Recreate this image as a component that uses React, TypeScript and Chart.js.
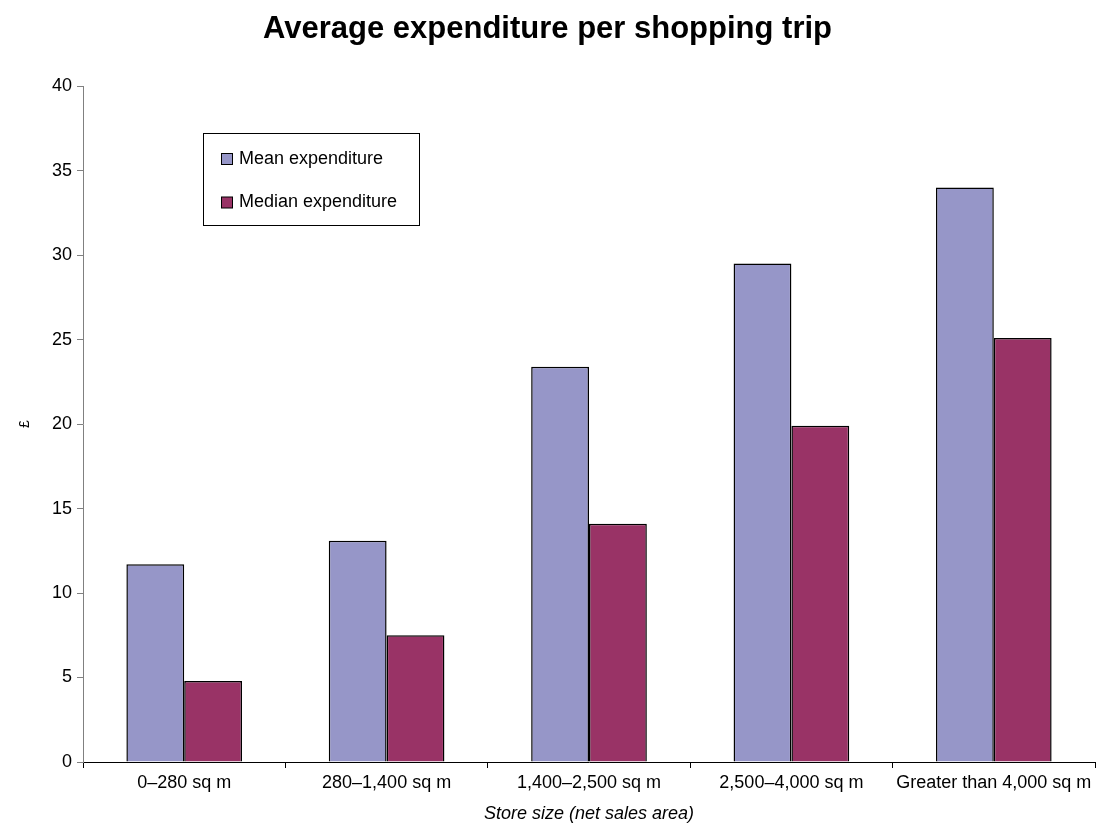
import React, { useEffect, useRef } from "react";
import { Chart, registerables } from "chart.js";

Chart.register(...registerables);

const categories = [
  "0–280 sq m",
  "280–1,400 sq m",
  "1,400–2,500 sq m",
  "2,500–4,000 sq m",
  "Greater than 4,000 sq m",
];
const meanExpenditure = [11.7, 13.1, 23.4, 29.5, 34.0];
const medianExpenditure = [4.8, 7.5, 14.1, 19.9, 25.1];
const seriesLabels = ["Mean expenditure", "Median expenditure"];
const seriesColors = ["#9696C8", "#993366"];

const FONT = "Arial, 'Liberation Sans', sans-serif";

const boxLegend = {
  id: "boxLegend",
  afterDraw(chart: any) {
    const ctx = chart.ctx;
    ctx.save();
    ctx.fillStyle = "#ffffff";
    ctx.fillRect(203.5, 133.5, 216, 92);
    ctx.strokeStyle = "#000000";
    ctx.lineWidth = 1;
    ctx.strokeRect(203.5, 133.5, 216, 92);
    const rows = [158.5, 202];
    chart.data.datasets.forEach((ds: any, i: number) => {
      const y = rows[i];
      ctx.fillStyle = ds.backgroundColor;
      ctx.fillRect(221.5, y - 5, 11, 11);
      ctx.strokeStyle = "#000";
      ctx.strokeRect(221.5, y - 5, 11, 11);
      ctx.fillStyle = "#000";
      ctx.font = `18px ${FONT}`;
      ctx.textBaseline = "middle";
      ctx.textAlign = "left";
      ctx.fillText(ds.label, 239, y + 0.5);
    });
    ctx.restore();
  },
};

export default function App() {
  const ref = useRef<HTMLCanvasElement>(null);
  useEffect(() => {
    document.body.style.margin = "0";
    const chart = new Chart(ref.current!, {
      type: "bar",
      data: {
        labels: categories,
        datasets: [
          {
            label: seriesLabels[0],
            data: meanExpenditure,
            backgroundColor: seriesColors[0],
            borderColor: "#000",
            borderWidth: 1.5,
            categoryPercentage: 2 / 3.5,
            barPercentage: 1,
          },
          {
            label: seriesLabels[1],
            data: medianExpenditure,
            backgroundColor: seriesColors[1],
            borderColor: "#000",
            borderWidth: 1.5,
            categoryPercentage: 2 / 3.5,
            barPercentage: 1,
          },
        ],
      },
      options: {
        animation: false,
        responsive: false,
        layout: { padding: { left: 0, right: 3, top: 0, bottom: 0 } },
        plugins: {
          legend: { display: false },
          tooltip: { enabled: false },
          title: {
            display: true,
            text: "Average expenditure per shopping trip",
            color: "#000",
            font: { family: FONT, size: 31, weight: "bold" },
            padding: { top: 11, bottom: 38 },
          },
        },
        scales: {
          x: {
            grid: {
              display: true,
              drawOnChartArea: false,
              drawTicks: true,
              tickLength: 6,
              color: "#000",
            },
            border: { display: true, color: "#000", width: 1 },
            ticks: {
              color: "#000",
              font: { family: FONT, size: 18 },
              padding: 4,
              maxRotation: 0,
              autoSkip: false,
            },
            title: {
              display: true,
              text: "Store size (net sales area)",
              color: "#000",
              font: { family: FONT, size: 18, style: "italic" },
              padding: { top: 0, bottom: 11 },
            },
            afterFit(scale: any) {
              scale.height = 74;
            },
          },
          y: {
            min: 0,
            max: 40,
            grid: {
              display: true,
              drawOnChartArea: false,
              drawTicks: true,
              tickLength: 6,
              color: "#808080",
            },
            border: { display: true, color: "#808080", width: 1 },
            ticks: {
              stepSize: 5,
              color: "#000",
              font: { family: FONT, size: 18 },
              padding: 5,
            },
            title: {
              display: true,
              text: "£",
              color: "#000",
              font: { family: FONT, size: 14 },
              padding: { top: 17, bottom: 0 },
            },
            afterFit(scale: any) {
              scale.width = 83;
            },
          },
        },
      },
      plugins: [boxLegend],
    });
    return () => chart.destroy();
  }, []);
  return (
    <div style={{ width: 1098, height: 836 }}>
      <canvas ref={ref} width={1098} height={836} style={{ display: "block" }} />
    </div>
  );
}
